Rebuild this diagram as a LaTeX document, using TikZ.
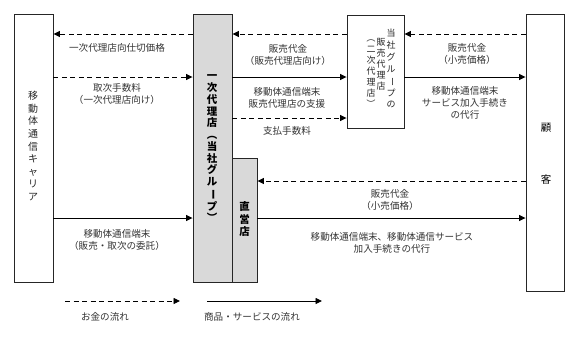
\documentclass[tikz,border=0pt]{standalone}
\usepackage{fontspec}
\setmainfont{Noto Sans CJK JP}
\usepackage{graphicx}
\usetikzlibrary{arrows.meta}
\newcommand{\vrot}[1]{\rotatebox[origin=c]{-90}{#1}}
\begin{document}
\begin{tikzpicture}[x=1bp,y=-1bp,
  box/.style={draw=black!85, line width=0.9bp, inner sep=0pt},
  graybox/.style={box, fill=black!15},
  lbl/.style={font=\fontsize{9.6}{12}\selectfont, text=black!80, align=center, inner sep=0pt},
  vtxt/.style={align=center, inner sep=0pt},
  flow/.style={line width=0.9bp, draw=black, -{Triangle[length=6.5bp,width=6bp]}},
  money/.style={flow, dash pattern=on 5bp off 3.5bp},
]
\useasboundingbox (0,0) rectangle (579,337);
% boxes
\node[box, minimum width=39bp, minimum height=268bp] (car) at (33.5,148) {};
\node[graybox, minimum width=39bp, minimum height=268bp] (pri) at (212.5,148) {};
\node[graybox, minimum width=25bp, minimum height=124bp] (dir) at (244.5,220) {};
\node[box, minimum width=57bp, minimum height=113bp] (sec) at (375.5,71.5) {};
\node[box, minimum width=38bp, minimum height=277bp] (cus) at (545,152.5) {};
% box texts
\node[vtxt, text=black!85, font=\fontsize{10}{12.7}\selectfont] (cart) at (33,146)
  {移\\動\\体\\通\\信\\キ\\ャ\\リ\\ア};
\node[vtxt, font=\bfseries\fontsize{10.5}{11.8}\selectfont] (prit) at (212,149)
  {一\\次\\代\\理\\店\\\vrot{（}\\当\\社\\グ\\ル\\\vrot{ー}\\プ\\\vrot{）}};
\node[vtxt, font=\bfseries\fontsize{10.5}{12.7}\selectfont] (dirt) at (244.5,219)
  {直\\営\\店};
\node[vtxt, text=black!85, font=\fontsize{9}{12}\selectfont] (sect1) at (391,68.5)
  {当\\社\\グ\\ル\\\vrot{ー}\\プ\\の};
\node[vtxt, text=black!85, font=\fontsize{9}{11}\selectfont] (sect2) at (381,64)
  {販\\売\\代\\理\\店};
\node[vtxt, text=black!85, font=\fontsize{9}{11}\selectfont] (sect3) at (371,71)
  {\vrot{（}\\二\\次\\代\\理\\店\\\vrot{）}};
\node[vtxt, font=\fontsize{10.5}{12}\selectfont] (cust1) at (546,128) {顧};
\node[vtxt, font=\fontsize{10.5}{12}\selectfont] (cust2) at (546,180) {客};
% rows
\coordinate (y34) at (0,34);
\coordinate (y77) at (0,77);
\coordinate (y118) at (0,118);
\coordinate (y181) at (0,181);
\coordinate (y218) at (0,218);
% connectors
\draw[money] (pri.west |- y34) -- (car.east |- y34);
\draw[money] (car.east |- y77) -- (pri.west |- y77);
\draw[money] (sec.west |- y34) -- (pri.east |- y34);
\draw[flow] (pri.east |- y77) -- (sec.west |- y77);
\draw[money] (pri.east |- y118) -- (sec.west |- y118);
\draw[money] (cus.west |- y34) -- (sec.east |- y34);
\draw[flow] (sec.east |- y77) -- (cus.west |- y77);
\draw[money] (cus.west |- y181) -- (dir.east |- y181);
\draw[flow] (dir.east |- y218) -- (cus.west |- y218);
\draw[flow] (car.east |- y218) -- (pri.west |- y218);
% labels
\node[lbl] (l1) at (117,48) {一次代理店向仕切価格};
\node[lbl] (l2) at (117,94) {取次手数料\\（一次代理店向け）};
\node[lbl] (l3) at (288,55) {販売代金\\（販売代理店向け）};
\node[lbl] (l4) at (287,98) {移動体通信端末\\販売代理店の支援};
\node[lbl] (l5) at (287,131) {支払手数料};
\node[lbl] (l6) at (467,54) {販売代金\\（小売価格）};
\node[lbl] (l7) at (465,103) {移動体通信端末\\サービス加入手続き\\の代行};
\node[lbl] (l8) at (390,200) {販売代金\\（小売価格）};
\node[lbl] (l9) at (392,243) {移動体通信端末、移動体通信サービス\\加入手続きの代行};
\node[lbl] (l10) at (117,240) {移動体通信端末\\（販売・取次の委託）};
% legend
\coordinate (lgA) at (65,301);
\coordinate (lgB) at (180,301);
\coordinate (lgC) at (207,301);
\coordinate (lgD) at (322,301);
\draw[money] (lgA) -- (lgB);
\draw[flow] (lgC) -- (lgD);
\node[lbl] (lg1) at (105,317) {お金の流れ};
\node[lbl] (lg2) at (252,317) {商品・サービスの流れ};
\end{tikzpicture}
\end{document}
